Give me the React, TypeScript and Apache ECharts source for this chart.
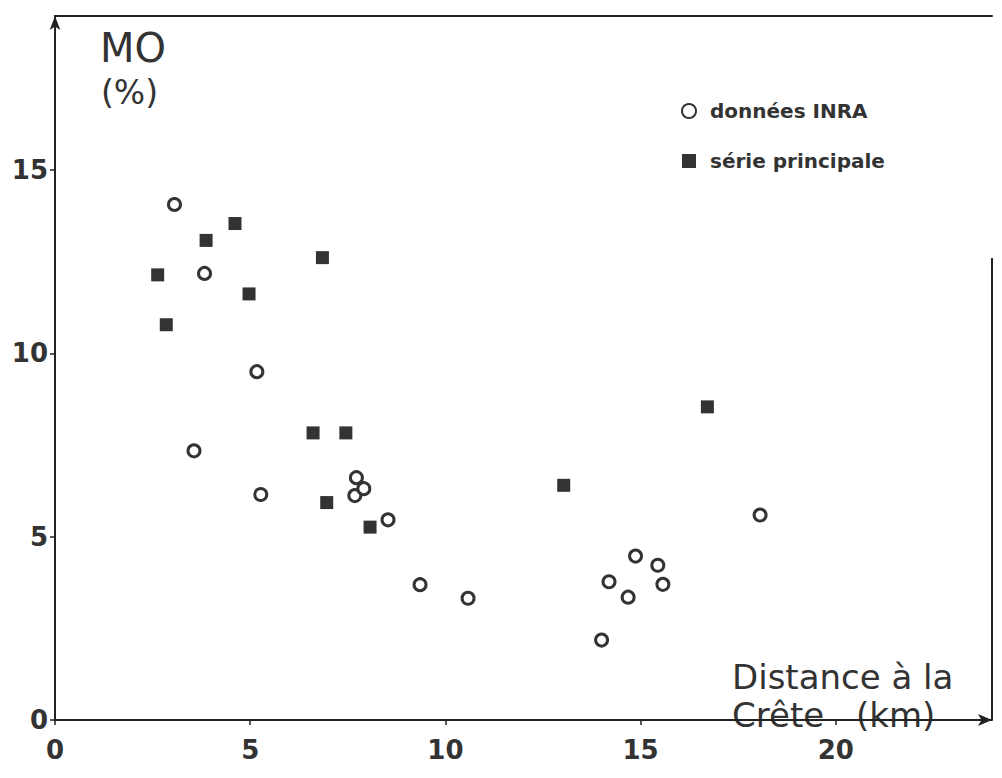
import React, { useEffect, useRef } from 'react';
import * as echarts from 'echarts';

// Données INRA (open circles)
const inraX = [3.06, 3.83, 3.56, 5.17, 5.27, 7.72, 7.68, 7.91, 8.53, 9.35, 10.58, 14.0, 14.87, 14.19, 14.68, 15.44, 15.57, 18.06];
const inraY = [14.06, 12.18, 7.34, 9.5, 6.15, 6.61, 6.12, 6.31, 5.46, 3.69, 3.32, 2.18, 4.47, 3.77, 3.35, 4.22, 3.7, 5.59];

// Série principale (filled squares)
const mainX = [2.63, 2.85, 3.87, 4.61, 4.97, 6.85, 6.61, 7.45, 6.96, 8.07, 13.03, 16.71];
const mainY = [12.14, 10.78, 13.08, 13.54, 11.62, 12.61, 7.83, 7.83, 5.93, 5.26, 6.4, 8.54];

const xTicks = [0, 5, 10, 15, 20];
const yTicks = [0, 5, 10, 15];
const seriesNames = ['données INRA', 'série principale'];
const yNameLines = ['MO', '(%)'];
const xNameParts = ['Distance à la', 'Crête', '(km)'];

const INK = '#333333';
const FONT = 'DejaVu Sans';

export default function App() {
  const ref = useRef<HTMLDivElement>(null);

  useEffect(() => {
    const chart = echarts.init(ref.current!, null, { renderer: 'svg' });
    const GRID = { left: 55, right: 10, top: 16, bottom: 58 };
    const W = 1002;
    const H = 778;

    const option: any = {
      animation: false,
      backgroundColor: '#ffffff',
      textStyle: { fontFamily: FONT, color: INK },
      grid: { ...GRID, containLabel: false },
      legend: {
        orient: 'vertical',
        left: 676,
        top: 96,
        itemWidth: 14,
        itemHeight: 14,
        itemGap: 30,
        textStyle: { fontFamily: FONT, fontSize: 20, fontWeight: 'bold', color: INK, padding: [0, 0, 0, 9] },
        data: [
          { name: seriesNames[0], icon: 'circle' },
          { name: seriesNames[1], icon: 'rect' },
        ],
      },
      xAxis: [
        {
          type: 'value',
          min: 0,
          max: 24,
          interval: 5,
          splitLine: { show: false },
          axisLine: { show: true, lineStyle: { color: '#222', width: 2 }, symbol: ['none', 'arrow'], symbolSize: [9, 14] },
          axisTick: { show: true, inside: false, length: 5, lineStyle: { color: '#222', width: 1.5 }, customValues: xTicks },
          axisLabel: {
            customValues: xTicks,
            margin: 17,
            fontFamily: FONT,
            fontSize: 26,
            fontWeight: 'bold',
            color: INK,
          },
        },
        {
          type: 'value',
          position: 'top',
          min: 0,
          max: 24,
          axisLine: { show: true, onZero: false, lineStyle: { color: '#222', width: 2 } },
          axisTick: { show: false },
          axisLabel: { show: false },
          splitLine: { show: false },
        },
      ],
      yAxis: {
        type: 'value',
        min: 0,
        max: 19.2,
        interval: 5,
        splitLine: { show: false },
        axisLine: { show: true, lineStyle: { color: '#222', width: 2 }, symbol: ['none', 'arrow'], symbolSize: [8, 14] },
        axisTick: { show: true, inside: false, length: 5, lineStyle: { color: '#222', width: 1.5 }, customValues: yTicks },
        axisLabel: {
          customValues: yTicks,
          margin: 7,
          fontFamily: FONT,
          fontSize: 26,
          fontWeight: 'bold',
          color: INK,
        },
      },
      series: [
        {
          name: seriesNames[0],
          type: 'scatter',
          xAxisIndex: 0,
          symbol: 'circle',
          symbolSize: 12,
          itemStyle: { color: '#ffffff', borderColor: INK, borderWidth: 3, opacity: 1 },
          data: inraX.map((x, i) => [x, inraY[i]]),
          z: 3,
        },
        {
          name: seriesNames[1],
          type: 'scatter',
          xAxisIndex: 0,
          symbol: 'rect',
          symbolSize: 13,
          itemStyle: { color: INK, opacity: 1 },
          data: mainX.map((x, i) => [x, mainY[i]]),
          z: 4,
        },
      ],
      graphic: [
        // right frame edge (partial, as in the scan)
        {
          type: 'line',
          shape: { x1: W - GRID.right, y1: 258, x2: W - GRID.right, y2: H - GRID.bottom },
          style: { stroke: '#222', lineWidth: 2 },
          z: 1,
        },
        {
          type: 'text',
          left: 100,
          top: 27,
          style: { text: yNameLines[0], fontFamily: FONT, fontSize: 40, lineHeight: 42, fill: INK },
        },
        {
          type: 'text',
          left: 101,
          top: 74,
          style: { text: yNameLines[1], fontFamily: FONT, fontSize: 33, lineHeight: 36, fill: INK },
        },
        {
          type: 'text',
          left: 732,
          top: 659,
          style: { text: xNameParts[0], fontFamily: FONT, fontSize: 34, lineHeight: 36, fill: INK },
        },
        {
          type: 'text',
          left: 732,
          top: 698,
          style: { text: xNameParts[1], fontFamily: FONT, fontSize: 34, lineHeight: 32, fill: INK },
        },
        {
          type: 'text',
          left: 856,
          top: 698,
          style: { text: xNameParts[2], fontFamily: FONT, fontSize: 34, lineHeight: 32, fill: INK },
        },
      ],
    };

    chart.setOption(option);
    return () => chart.dispose();
  }, []);

  return (
    <div
      ref={ref}
      style={{ position: 'fixed', left: 0, top: 0, width: 1002, height: 778, background: '#fff' }}
    />
  );
}
